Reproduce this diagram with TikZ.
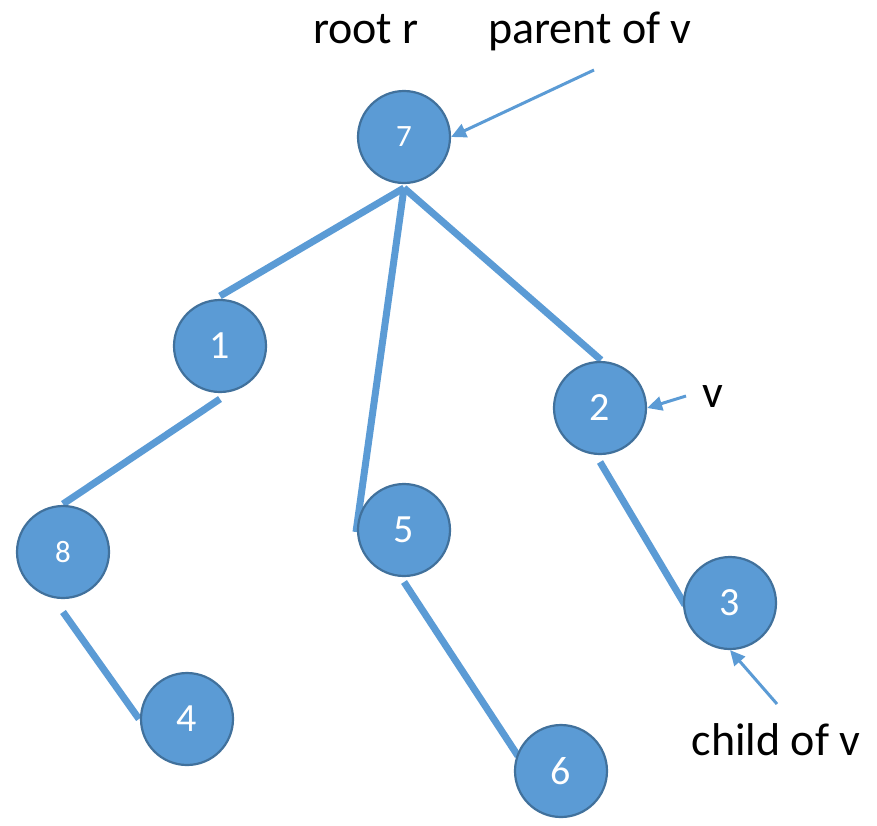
\documentclass[tikz,border=0pt]{standalone}
\usepackage{fontspec}
\setmainfont{Carlito}
\usetikzlibrary{arrows.meta}
\definecolor{nodefill}{HTML}{5B9BD5}
\definecolor{nodeline}{HTML}{41719C}
\begin{document}
\begin{tikzpicture}[x=1pt,y=-1pt,
  vert/.style={circle,draw=nodeline,line width=2.2pt,fill=nodefill,minimum size=92pt,inner sep=0pt,text=white,font=\fontsize{40}{40}\selectfont},
  vertsmall/.style={vert,font=\fontsize{31}{31}\selectfont},
  edge/.style={draw=nodefill,line width=7pt},
  pointer/.style={draw=nodefill,line width=3pt,-{Triangle[length=15pt,width=14pt]}},
  lbl/.style={font=\fontsize{46}{46}\selectfont,text=black,inner sep=0pt,anchor=base}]
\useasboundingbox (0,0) rectangle (877,825);
% edge end points
\coordinate (e7) at (404,188);
\coordinate (e1t) at (220,296);
\coordinate (e5l) at (356,532);
\coordinate (e2t) at (601,360);
\coordinate (e1b) at (220,399);
\coordinate (e8t) at (63,504);
\coordinate (e8b) at (63,612);
\coordinate (e4l) at (139,719);
\coordinate (e5b) at (404,582);
\coordinate (e6l) at (518,756);
\coordinate (e2b) at (600,462);
\coordinate (e3l) at (685,605);
\draw[edge] (e7) -- (e1t);
\draw[edge] (e7) -- (e5l);
\draw[edge] (e7) -- (e2t);
\draw[edge] (e1b) -- (e8t);
\draw[edge] (e8b) -- (e4l);
\draw[edge] (e5b) -- (e6l);
\draw[edge] (e2b) -- (e3l);
% vertices
\node[vertsmall] (n7) at (404,137) {7};
\node[vert] (n1) at (220,346) {1};
\node[vert] (n2) at (600,408) {2};
\node[vertsmall] (n8) at (63,552) {8};
\node[vert] (n5) at (404,530) {5};
\node[vert] (n3) at (730,603) {3};
\node[vert] (n4) at (187,719) {4};
\node[vert] (n6) at (561,771) {6};
% labels
\node[lbl] (root) at (366,43) {root r};
\node[lbl] (parent) at (590,43) {parent of v};
\node[lbl] (vlab) at (713,407) {v};
\node[lbl] (child) at (776,755) {child of v};
\coordinate (p1) at (594,70);
\coordinate (p2) at (686,396);
\coordinate (p3) at (777,704);
\draw[pointer] (p1) -- (n7.east);
\draw[pointer] (p2) -- (n2.east);
\draw[pointer] (p3) -- (n3.south);
\end{tikzpicture}
\end{document}
